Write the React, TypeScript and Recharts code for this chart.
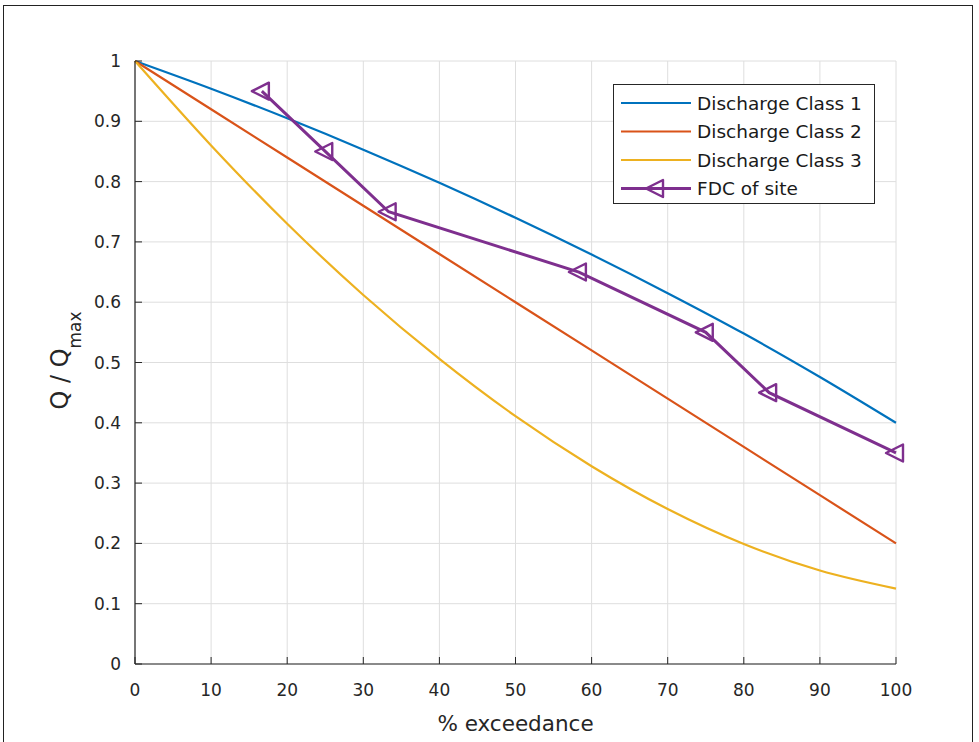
import React from 'react';
import { LineChart, Line, XAxis, YAxis, CartesianGrid, Legend } from 'recharts';

const pctExceedance = [0, 10, 20, 30, 40, 50, 60, 70, 80, 90, 100];
const dischargeClass1 = [1, 0.954, 0.905, 0.853, 0.798, 0.74, 0.679, 0.615, 0.548, 0.476, 0.4];
const dischargeClass2 = [1, 0.92, 0.84, 0.76, 0.68, 0.6, 0.52, 0.44, 0.36, 0.28, 0.2];
const dischargeClass3 = [1, 0.86, 0.73, 0.612, 0.506, 0.411, 0.328, 0.257, 0.199, 0.155, 0.125];
const fdcExceedance = [16.67, 25, 33.33, 58.33, 75, 83.33, 100];
const fdcSite = [0.95, 0.85, 0.75, 0.65, 0.55, 0.45, 0.35];

const xTicks = [0, 10, 20, 30, 40, 50, 60, 70, 80, 90, 100];
const yTicks = [0, 0.1, 0.2, 0.3, 0.4, 0.5, 0.6, 0.7, 0.8, 0.9, 1];

const seriesNames = ['Discharge Class 1', 'Discharge Class 2', 'Discharge Class 3', 'FDC of site'];
const seriesColors = ['#0072BD', '#D95319', '#EDB120', '#7E2F8E'];
const chartTitle = 'Q Teresina Amazon';
const xLabel = '% exceedance';

const toPoints = (xs: number[], ys: number[]) => xs.map((x, i) => ({ x, y: ys[i] }));
const class1Data = toPoints(pctExceedance, dischargeClass1);
const class2Data = toPoints(pctExceedance, dischargeClass2);
const class3Data = toPoints(pctExceedance, dischargeClass3);
const fdcData = toPoints(fdcExceedance, fdcSite);

const FONT = '"DejaVu Sans", "Liberation Sans", Arial, sans-serif';
const AXIS = '#262626';
const TICK_STYLE = { fontFamily: FONT, fontSize: 17, fill: AXIS };

const triPath = (cx: number, cy: number) =>
  `M${cx - 10},${cy} L${cx + 7},${cy - 8.5} L${cx + 7},${cy + 8.5} Z`;

const TriMarker = (props: any) => {
  const { cx, cy, index } = props;
  if (cx == null || cy == null) return <g key={`m${index}`} />;
  return (
    <path
      key={`m${index}`}
      d={triPath(cx, cy)}
      fill="none"
      stroke={seriesColors[3]}
      strokeWidth={2.4}
      strokeLinejoin="round"
    />
  );
};

const renderLegend = () => (
  <svg width={262} height={120} style={{ display: 'block' }}>
    <rect x={0.5} y={0.5} width={261} height={119} fill="#ffffff" stroke={AXIS} strokeWidth={1} />
    {seriesNames.map((name, i) => {
      const cy = 19 + i * 28.5;
      return (
        <g key={name}>
          <line x1={8} x2={78} y1={cy} y2={cy} stroke={seriesColors[i]} strokeWidth={i === 3 ? 3 : 2.2} />
          {i === 3 && (
            <path d={triPath(43, cy)} fill="none" stroke={seriesColors[3]} strokeWidth={2.4} strokeLinejoin="round" />
          )}
          <text x={84} y={cy} dy="0.36em" fontFamily={FONT} fontSize={18.5} fill="#1a1a1a">
            {name}
          </text>
        </g>
      );
    })}
  </svg>
);

const fmtY = (v: number) => String(Math.round(v * 10) / 10);

export default function App() {
  return (
    <div style={{ position: 'absolute', left: 0, top: 0, width: 979, height: 742, background: '#fff', fontFamily: FONT }}>
      <div
        style={{
          position: 'absolute',
          left: 3,
          top: 5,
          width: 970,
          height: 745,
          border: '1.5px solid #222',
          boxSizing: 'border-box',
        }}
      />
      <div style={{ position: 'absolute', left: 0, top: 0 }}>
        <LineChart width={979} height={742} margin={{ top: 61, right: 83, bottom: 0, left: 0 }}>
          <CartesianGrid stroke="#dedede" strokeWidth={1} />
          <XAxis
            dataKey="x"
            type="number"
            domain={[0, 100]}
            ticks={xTicks}
            height={78}
            tickSize={-7}
            tickMargin={27}
            tick={TICK_STYLE}
            stroke={AXIS}
            axisLine={{ stroke: AXIS, strokeWidth: 1.2 }}
            tickLine={{ stroke: AXIS, strokeWidth: 1 }}
            label={(p: any) => {
              const vb = p.viewBox || { x: 135, y: 664, width: 761 };
              return (
                <text x={vb.x + vb.width / 2} y={vb.y + 67} textAnchor="middle" fontFamily={FONT} fontSize={21.5} fill={AXIS}>
                  {xLabel}
                </text>
              );
            }}
          />
          <XAxis
            xAxisId="top"
            dataKey="x"
            type="number"
            orientation="top"
            domain={[0, 100]}
            ticks={xTicks}
            height={0}
            tickSize={-7}
            tick={false}
            axisLine={{ stroke: AXIS, strokeWidth: 1.2 }}
            tickLine={{ stroke: AXIS, strokeWidth: 1 }}
            label={(p: any) => {
              const vb = p.viewBox || { x: 135, y: 61, width: 761 };
              return (
                <text x={vb.x + vb.width / 2} y={vb.y - 14} textAnchor="middle" fontFamily={FONT} fontWeight="bold" fontSize={21.5} fill="#000">
                  {chartTitle}
                </text>
              );
            }}
          />
          <YAxis
            type="number"
            domain={[0, 1]}
            ticks={yTicks}
            width={135}
            tickSize={-7}
            tickMargin={21}
            tick={TICK_STYLE}
            tickFormatter={fmtY}
            axisLine={{ stroke: AXIS, strokeWidth: 1.2 }}
            tickLine={{ stroke: AXIS, strokeWidth: 1 }}
            label={(p: any) => {
              const vb = p.viewBox || { x: 0, y: 61, width: 135, height: 603 };
              const cx = 68;
              const cy = vb.y + vb.height / 2 - 2;
              return (
                <text
                  x={cx}
                  y={cy}
                  transform={`rotate(-90, ${cx}, ${cy})`}
                  textAnchor="middle"
                  fontFamily={FONT}
                  fontSize={24}
                  fill={AXIS}
                >
                  Q / Q
                  <tspan dy={13} fontSize={17}>
                    max
                  </tspan>
                </text>
              );
            }}
          />
          <YAxis
            yAxisId="right"
            type="number"
            orientation="right"
            domain={[0, 1]}
            ticks={yTicks}
            width={0}
            tickSize={-7}
            tick={false}
            axisLine={{ stroke: AXIS, strokeWidth: 1.2 }}
            tickLine={{ stroke: AXIS, strokeWidth: 1 }}
          />
          <Legend
            layout="vertical"
            align="center"
            verticalAlign="middle"
            content={renderLegend}
            wrapperStyle={{ left: 613, top: 84, width: 262, height: 120 }}
          />
          <Line
            data={class1Data}
            dataKey="y"
            name={seriesNames[0]}
            type="monotone"
            stroke={seriesColors[0]}
            strokeWidth={2.2}
            dot={false}
            isAnimationActive={false}
          />
          <Line
            data={class2Data}
            dataKey="y"
            name={seriesNames[1]}
            type="linear"
            stroke={seriesColors[1]}
            strokeWidth={2.2}
            dot={false}
            isAnimationActive={false}
          />
          <Line
            data={class3Data}
            dataKey="y"
            name={seriesNames[2]}
            type="monotone"
            stroke={seriesColors[2]}
            strokeWidth={2.2}
            dot={false}
            isAnimationActive={false}
          />
          <Line
            data={fdcData}
            dataKey="y"
            name={seriesNames[3]}
            type="linear"
            stroke={seriesColors[3]}
            strokeWidth={3}
            dot={TriMarker}
            activeDot={false}
            isAnimationActive={false}
          />
        </LineChart>
      </div>
    </div>
  );
}
